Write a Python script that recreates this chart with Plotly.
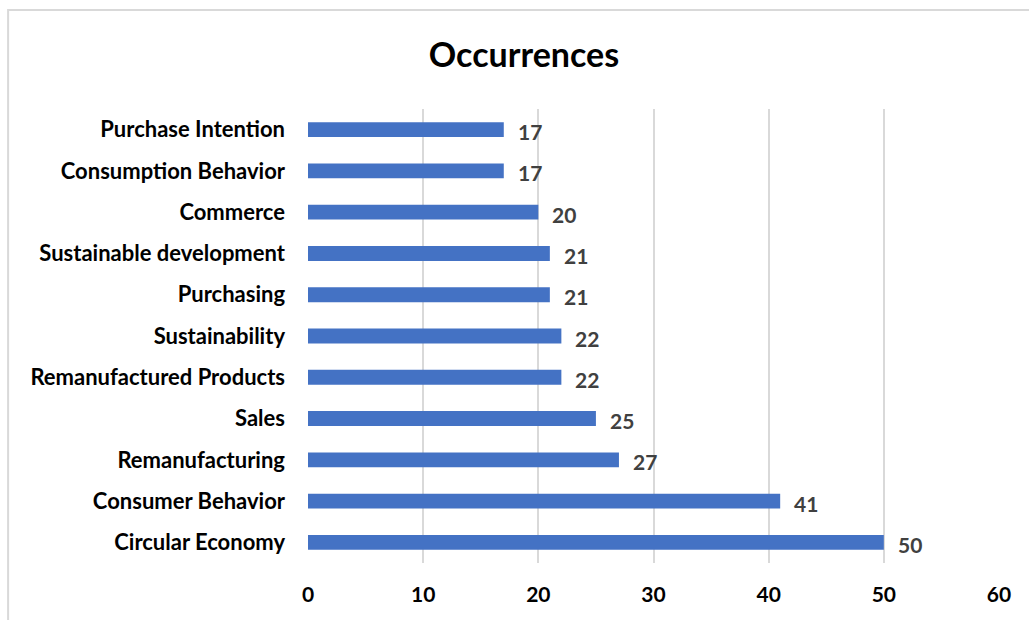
import plotly.graph_objects as go

categories = ["Circular Economy", "Consumer Behavior", "Remanufacturing", "Sales",
              "Remanufactured Products", "Sustainability", "Purchasing",
              "Sustainable development", "Commerce", "Consumption Behavior",
              "Purchase Intention"]
values = [50, 41, 27, 25, 22, 22, 21, 21, 20, 17, 17]
x_ticks = [0, 10, 20, 30, 40, 50, 60]

FONT = "Lato"

fig = go.Figure()
fig.add_trace(go.Bar(
    y=categories, x=values, orientation="h",
    marker=dict(color="#4472C4", line=dict(width=0)),
    width=0.36,
    hoverinfo="x+y",
))

for c, v in zip(categories, values):
    fig.add_annotation(x=v, y=c, text=str(v), showarrow=False,
                       xanchor="left", yanchor="middle", xshift=12, yshift=-2,
                       font=dict(family=FONT, size=21, color="#404040", weight="bold"))

fig.add_shape(type="rect", xref="paper", yref="paper",
              x0=-0.434, x1=1.2, y0=-0.3, y1=1.218,
              line=dict(color="#d9d9d9", width=2), fillcolor="rgba(0,0,0,0)", layer="below")

fig.update_layout(
    width=1029, height=620,
    margin=dict(l=308, r=30, t=109, b=57),
    paper_bgcolor="white", plot_bgcolor="white",
    showlegend=False,
    title=dict(text="<b>Occurrences</b>", x=0.3126, xref="paper", xanchor="center",
               y=1 - 55 / 620, yref="container", yanchor="middle",
               font=dict(family=FONT, size=34, color="#000000")),
    xaxis=dict(range=[0, 60], tickvals=x_ticks, showgrid=True, gridcolor="#d9d9d9",
               gridwidth=2, zeroline=False, showline=False, ticks="",
               ticklabelstandoff=17,
               tickfont=dict(family=FONT, size=21, color="#000000", weight="bold")),
    yaxis=dict(categoryorder="array", categoryarray=categories, showgrid=False,
               zeroline=False, showline=False, ticks="", ticklabelstandoff=22,
               tickfont=dict(family=FONT, size=22, color="#000000", weight="bold")),
)

fig.write_html("out.html")
